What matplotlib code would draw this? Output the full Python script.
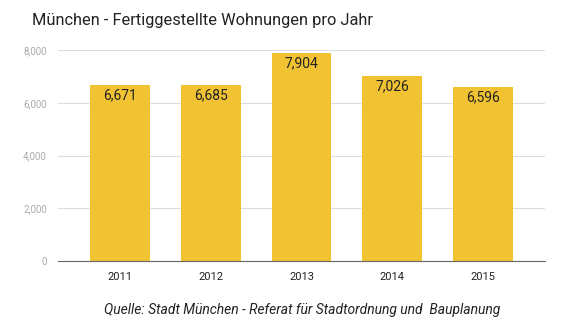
import matplotlib
matplotlib.use("Agg")
import matplotlib.pyplot as plt

years = ["2011", "2012", "2013", "2014", "2015"]
wohnungen = [6671, 6685, 7904, 7026, 6596]
y_ticks = [0, 2000, 4000, 6000, 8000]

plt.rcParams["font.family"] = ["Roboto", "DejaVu Sans"]

fig = plt.figure(figsize=(5.8, 3.26), dpi=100)
ax = fig.add_axes([58 / 580, 1 - 261 / 326, 487 / 580, 211 / 326])

bars = ax.bar(range(len(years)), wohnungen, width=0.66, color="#F1C232", zorder=2)
for rect, val in zip(bars, wohnungen):
    ax.text(rect.get_x() + rect.get_width() / 2, val - 130, f"{val:,}",
            ha="center", va="top", fontsize=10, color="#222222")

ax.set_xlim(-0.68, 4.68)
ax.set_ylim(0, 8000)
ax.set_yticks(y_ticks)
ax.set_yticklabels([f"{t:,}" for t in y_ticks])
ax.set_xticks(range(len(years)))
ax.set_xticklabels(years)
ax.grid(axis="y", color="#dddddd", linewidth=0.8, zorder=0)
for s in ["top", "right", "left"]:
    ax.spines[s].set_visible(False)
ax.spines["bottom"].set_color("#666666")
ax.tick_params(axis="y", length=0, pad=8, labelsize=7, labelcolor="#aaaaaa")
ax.tick_params(axis="x", length=0, pad=8, labelsize=8, labelcolor="#222222")

fig.text(32 / 580, 1 - 20 / 326, "München - Fertiggestellte Wohnungen pro Jahr",
         fontsize=11.8, color="#222222", va="center", ha="left")
fig.text(302 / 580, 1 - 310 / 326,
         "Quelle: Stadt München - Referat für Stadtordnung und  Bauplanung",
         fontsize=10, style="italic", color="#222222", va="center", ha="center")

fig.savefig("out.png", dpi=100)
